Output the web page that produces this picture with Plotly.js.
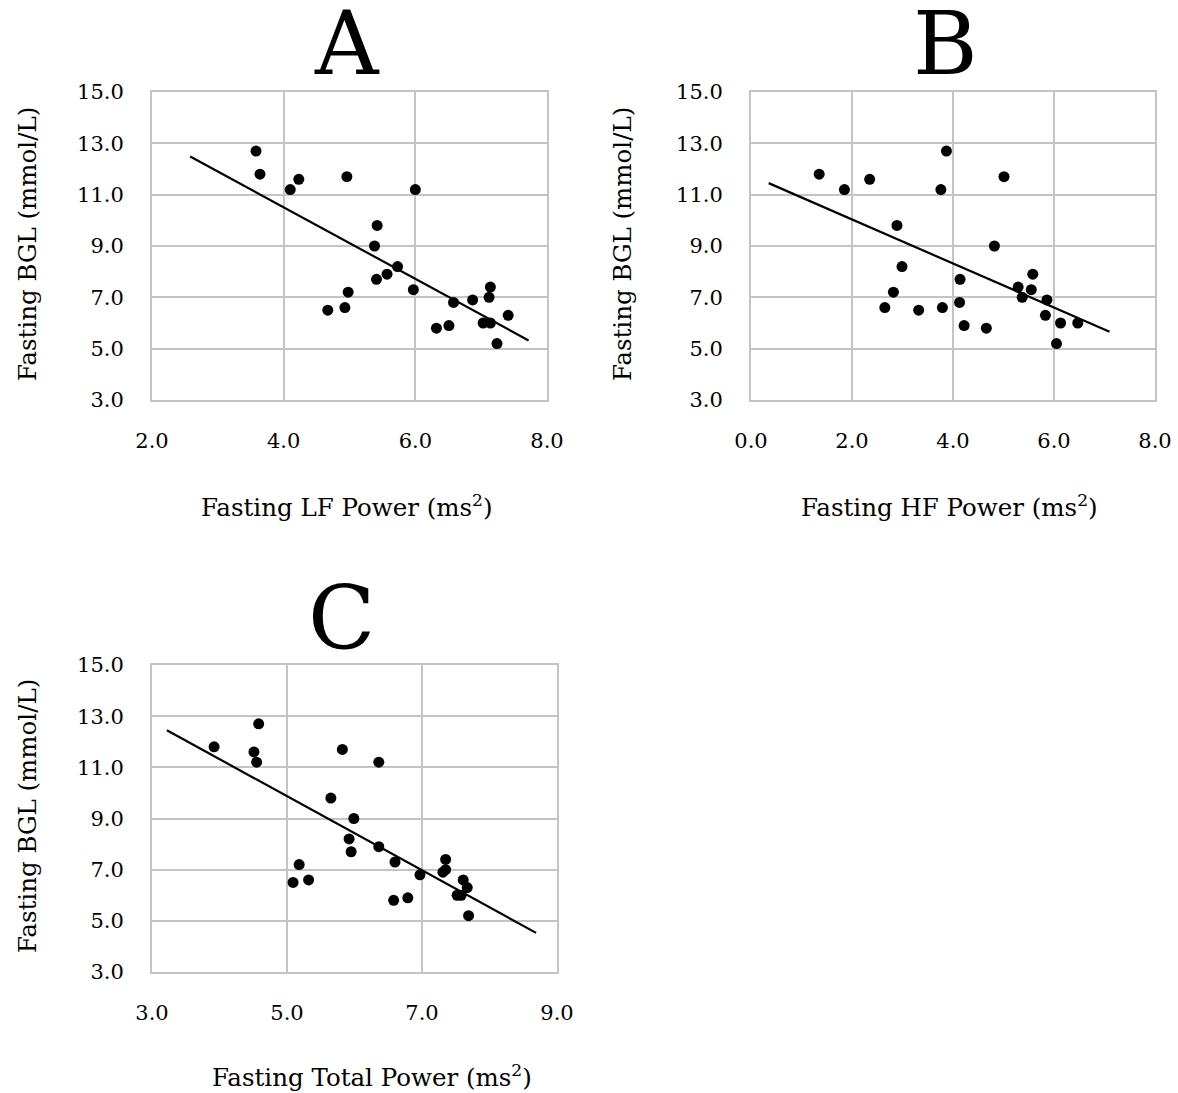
<!DOCTYPE html>
<html>
<head>
<meta charset="utf-8">
<script src="https://cdn.plot.ly/plotly-3.0.1.min.js"></script>
<style>html,body{margin:0;padding:0;background:#fff;}#chart{width:1178px;height:1093px;}</style>
</head>
<body>
<div id="chart"></div>
<script>
// Panel A: Fasting LF Power vs Fasting BGL
const lfPower = [3.58,3.64,4.10,4.23,4.96,6.00,5.42,5.38,5.73,5.57,5.41,5.97,4.98,4.67,4.93,6.58,6.87,7.14,7.12,7.41,6.32,6.51,7.03,7.14,7.24];
const bglA    = [12.7,11.8,11.2,11.6,11.7,11.2,9.8,9.0,8.2,7.9,7.7,7.3,7.2,6.5,6.6,6.8,6.9,7.4,7.0,6.3,5.8,5.9,6.0,6.0,5.2];
const trendAx = [2.58, 7.72];
const trendAy = [12.49, 5.32];

// Panel B: Fasting HF Power vs Fasting BGL
const hfPower = [1.35,1.85,2.35,3.87,3.76,5.01,2.89,4.82,2.99,5.58,4.14,5.29,5.55,2.82,5.37,5.86,4.13,2.65,3.79,3.32,5.83,6.13,6.47,4.22,4.66,6.05];
const bglB    = [11.8,11.2,11.6,12.7,11.2,11.7,9.8,9.0,8.2,7.9,7.7,7.4,7.3,7.2,7.0,6.9,6.8,6.6,6.6,6.5,6.3,6.0,6.0,5.9,5.8,5.2];
const trendBx = [0.35, 7.10];
const trendBy = [11.45, 5.66];

// Panel C: Fasting Total Power vs Fasting BGL
const totPower = [3.92,4.58,4.51,4.55,5.82,6.36,5.65,5.99,5.92,5.95,6.36,6.60,5.18,5.09,5.32,6.97,7.35,7.35,7.31,7.61,7.67,7.52,7.58,6.58,6.79,7.69];
const bglC     = [11.8,12.7,11.6,11.2,11.7,11.2,9.8,9.0,8.2,7.7,7.9,7.3,7.2,6.5,6.6,6.8,7.4,7.0,6.9,6.6,6.3,6.0,6.0,5.8,5.9,5.2];
const trendCx = [3.22, 8.69];
const trendCy = [12.45, 4.53];

const panelLetters = ['A','B','C'];
const xTitles = ['Fasting LF Power (ms<sup>2</sup>)','Fasting HF Power (ms<sup>2</sup>)','Fasting Total Power (ms<sup>2</sup>)'];
const yTitle = 'Fasting BGL (mmol/L)';
const xTicksA = [2,4,6,8];
const xTicksB = [0,2,4,6,8];
const xTicksC = [3,5,7,9];
const yTicks = [3,5,7,9,11,13,15];

const W = 1178, H = 1093;
const px = v => v / W;
const py = v => 1 - v / H;
const FONT = 'DejaVu Serif';

function pts(x, y, xa, ya) {
  return {x: x, y: y, xaxis: xa, yaxis: ya, type: 'scatter', mode: 'markers',
    marker: {color: '#000', size: 11}, hoverinfo: 'skip', showlegend: false};
}
function line(x, y, xa, ya) {
  return {x: x, y: y, xaxis: xa, yaxis: ya, type: 'scatter', mode: 'lines',
    line: {color: '#000', width: 2.2}, hoverinfo: 'skip', showlegend: false};
}

const data = [
  pts(lfPower, bglA, 'x', 'y'), line(trendAx, trendAy, 'x', 'y'),
  pts(hfPower, bglB, 'x2', 'y2'), line(trendBx, trendBy, 'x2', 'y2'),
  pts(totPower, bglC, 'x3', 'y3'), line(trendCx, trendCy, 'x3', 'y3')
];

const GRID = '#c4c4c4';
function xax(domain, range, ticks, anchor) {
  return {domain: domain, range: range, tickvals: ticks, tickformat: '.1f', anchor: anchor,
    showgrid: true, gridcolor: GRID, gridwidth: 2, zeroline: false,
    showline: true, linecolor: GRID, linewidth: 2, mirror: true,
    ticks: '', ticklabelstandoff: 21, tickfont: {family: FONT, size: 21, color: '#000'}};
}
function yax(domain, anchor) {
  return {domain: domain, range: [3, 15], tickvals: yTicks, tickformat: '.1f', anchor: anchor,
    showgrid: true, gridcolor: GRID, gridwidth: 2, zeroline: false,
    showline: true, linecolor: GRID, linewidth: 2, mirror: true,
    ticks: '', ticklabelstandoff: 22, tickfont: {family: FONT, size: 21, color: '#000'}};
}

const yDomTop = [py(400), py(92)];
const yDomBot = [py(972), py(665)];

const annFont = {family: FONT, size: 24.5, color: '#000'};
function ann(text, x, y, opts) {
  return Object.assign({text: text, x: px(x), y: py(y), xref: 'paper', yref: 'paper',
    showarrow: false, xanchor: 'center', yanchor: 'middle', font: annFont}, opts || {});
}
const bigFont = {family: FONT, size: 88, color: '#000'};

const annotations = [
  ann(panelLetters[0], 347, 44, {font: bigFont}),
  ann(panelLetters[1], 945, 44, {font: bigFont}),
  ann(panelLetters[2], 341, 618, {font: bigFont}),
  ann(xTitles[0], 347, 506),
  ann(xTitles[1], 950, 506),
  ann(xTitles[2], 372, 1076),
  ann(yTitle, 27, 244, {textangle: -90}),
  ann(yTitle, 622, 244, {textangle: -90}),
  ann(yTitle, 27, 816, {textangle: -90})
];

const layout = {
  width: W, height: H,
  margin: {l: 0, r: 0, t: 0, b: 0},
  paper_bgcolor: '#fff', plot_bgcolor: '#fff',
  showlegend: false,
  xaxis: xax([px(152), px(547)], [2, 8], xTicksA, 'y'),
  yaxis: yax(yDomTop, 'x'),
  xaxis2: xax([px(751), px(1155)], [0, 8], xTicksB, 'y2'),
  yaxis2: yax(yDomTop, 'x2'),
  xaxis3: xax([px(152), px(557)], [3, 9], xTicksC, 'y3'),
  yaxis3: yax(yDomBot, 'x3'),
  annotations: annotations
};

Plotly.newPlot('chart', data, layout, {staticPlot: true, displayModeBar: false});
</script>
</body>
</html>
